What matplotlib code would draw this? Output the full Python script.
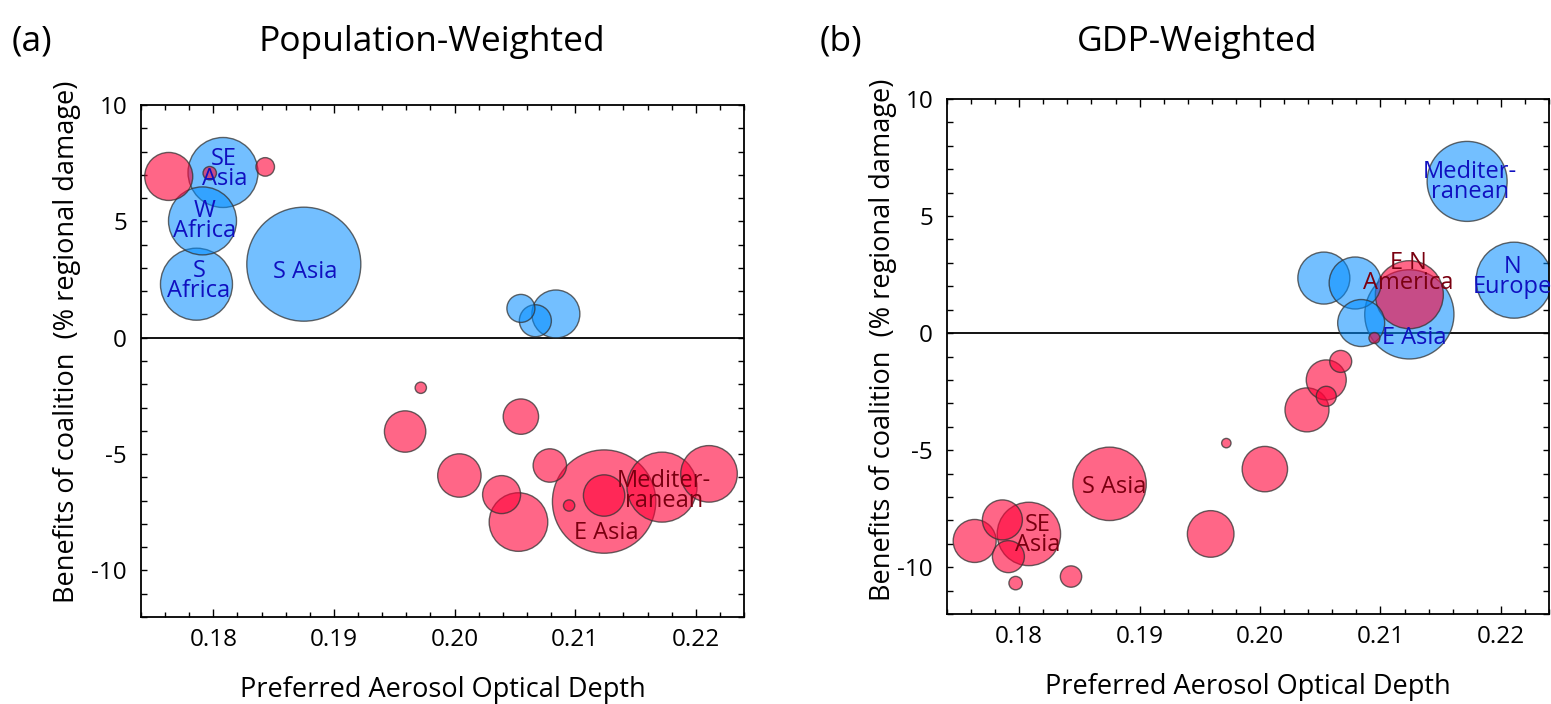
import matplotlib
matplotlib.use("Agg")
import matplotlib.pyplot as plt
from matplotlib.ticker import MultipleLocator
import numpy as np

plt.rcParams['font.family'] = ['Open Sans', 'DejaVu Sans']
plt.rcParams['axes.unicode_minus'] = False

# ---------------- data ----------------
regions = ["R1", "SE Asia", "R3", "R4", "W Africa", "S Africa", "S Asia", "R8", "R9",
           "R10", "R11", "R12", "R13", "R14", "R15", "R16", "R17", "R18",
           "E N America", "E Asia", "Mediterranean", "N Europe"]

# preferred aerosol optical depth of each region
aod = [0.1763, 0.1808, 0.1797, 0.1843, 0.1791, 0.1786, 0.1875, 0.2055, 0.2067,
       0.2084, 0.1972, 0.1959, 0.2055, 0.2004, 0.2039, 0.2053, 0.2079, 0.2095,
       0.2124, 0.2124, 0.2172, 0.2211]

# (a) population-weighted benefits and relative population weight
pop_benefit = [6.93, 7.10, 7.07, 7.34, 5.02, 2.30, 3.16, 1.26, 0.73,
               1.02, -2.15, -4.03, -3.39, -5.92, -6.74, -7.92, -5.49, -7.21,
               -6.78, -7.04, -6.42, -5.85]
pop_weight = [5.76, 12.25, 0.45, 0.86, 11.56, 12.96, 32.5, 1.96, 2.56,
              5.76, 0.32, 4.28, 3.13, 4.71, 3.61, 8.58, 2.79, 0.32,
              4.28, 26.7, 12.25, 8.0]
pop_group = ["r", "b", "r", "r", "b", "b", "b", "b", "b",
             "b", "r", "r", "r", "r", "r", "r", "r", "r",
             "r", "r", "r", "r"]

# (b) GDP-weighted benefits and relative GDP weight
gdp_benefit = [-8.88, -8.58, -10.68, -10.40, -9.55, -7.98, -6.44, -2.70, -1.21,
               0.43, -4.70, -8.58, -2.00, -5.81, -3.28, 2.35, 2.14, -0.21,
               1.64, 0.80, 6.48, 2.26]
gdp_weight = [4.62, 10.05, 0.45, 1.14, 2.56, 4.0, 13.47, 1.0, 1.21,
              5.52, 0.22, 5.43, 4.0, 5.15, 4.84, 6.76, 6.76, 0.30,
              11.56, 19.9, 16.0, 14.44]
gdp_group = ["r", "r", "r", "r", "r", "r", "r", "r", "r",
             "b", "r", "r", "r", "r", "r", "b", "b", "r",
             "r", "b", "b", "b"]

# region labels: text, x, y, group
pop_labels = [("SE\nAsia", 0.1809, 7.23, "b"), ("W\nAfrica", 0.1793, 5.00, "b"),
              ("S\nAfrica", 0.1788, 2.43, "b"), ("S Asia", 0.1876, 2.81, "b"),
              ("Mediter-\nranean", 0.21734, -6.60, "r"), ("E Asia", 0.2126, -8.38, "r")]
gdp_labels = [("Mediter-\nranean", 0.21745, 6.44, "b"), ("E N\nAmerica", 0.21231, 2.58, "r"),
              ("N\nEurope", 0.2210, 2.38, "b"), ("E Asia", 0.21284, -0.21, "b"),
              ("S Asia", 0.18787, -6.56, "r"), ("SE\nAsia", 0.18157, -8.62, "r")]

x_ticks = [0.18, 0.19, 0.20, 0.21, 0.22]
y_ticks = [-10, -5, 0, 5, 10]

# ---------------- style ----------------
W, H = 1551, 704
fig = plt.figure(figsize=(W / 100, H / 100), dpi=100)

face = {"b": (0.0, 0.55, 1.0, 0.55), "r": (1.0, 0.0, 0.22, 0.6)}
edge = (0.2, 0.2, 0.2, 0.75)
txt = {"b": "#1010c0", "r": "#7a0010"}
size_scale = 207.36  # points^2 per weight unit


def draw(ax, benefit, weight, group, labels):
    x = np.array(aod)
    y = np.array(benefit)
    w = np.array(weight)
    order = np.argsort(-w, kind="stable")
    ax.axhline(0, color="black", lw=1.3, zorder=1)
    ax.scatter(x[order], y[order], s=w[order] * size_scale,
               c=[face[group[i]] for i in order],
               edgecolors=[edge] * len(order), linewidths=1.0, zorder=2)
    for t, lx, ly, g in labels:
        ax.text(lx, ly, t, ha="center", va="center", fontsize=17,
                color=txt[g], linespacing=0.78, zorder=5, clip_on=False)
    ax.set_xlim(0.174, 0.224)
    ax.set_ylim(-12, 10)
    ax.set_xticks(x_ticks)
    ax.set_xticklabels([f"{v:.2f}" for v in x_ticks])
    ax.set_yticks(y_ticks)
    ax.set_yticklabels([str(v) for v in y_ticks])
    ax.xaxis.set_minor_locator(MultipleLocator(0.002))
    ax.yaxis.set_minor_locator(MultipleLocator(1))
    ax.tick_params(which="both", direction="in", top=True, right=True,
                   width=1.0, labelsize=17.5, color="black")
    ax.tick_params(axis="x", which="major", length=5.5, pad=8)
    ax.tick_params(axis="x", which="minor", length=3.5)
    ax.tick_params(axis="y", which="major", length=4.5, pad=10)
    ax.tick_params(axis="y", which="minor", length=4.5)
    for sp in ax.spines.values():
        sp.set_linewidth(1.3)
    ax.set_xlabel("Preferred Aerosol Optical Depth", fontsize=19.5, labelpad=17)
    ax.set_ylabel("Benefits of coalition  (% regional damage)", fontsize=19.5)


ax1 = fig.add_axes([141 / W, (H - 617) / H, 603 / W, 512 / H])
draw(ax1, pop_benefit, pop_weight, pop_group, pop_labels)
ax1.yaxis.set_label_coords(-0.10, 0.537)

ax2 = fig.add_axes([947 / W, (H - 614) / H, 602 / W, 515 / H])
draw(ax2, gdp_benefit, gdp_weight, gdp_group, gdp_labels)
ax2.yaxis.set_label_coords(-0.083, 0.532)

fig.text(432 / W, 1 - 42 / H, "Population-Weighted", ha="center", va="center", fontsize=25.5)
fig.text(32 / W, 1 - 42 / H, "(a)", ha="center", va="center", fontsize=25.5)
fig.text(1197 / W, 1 - 42 / H, "GDP-Weighted", ha="center", va="center", fontsize=25.5)
fig.text(841 / W, 1 - 42 / H, "(b)", ha="center", va="center", fontsize=25.5)

fig.savefig("out.png", dpi=100)
